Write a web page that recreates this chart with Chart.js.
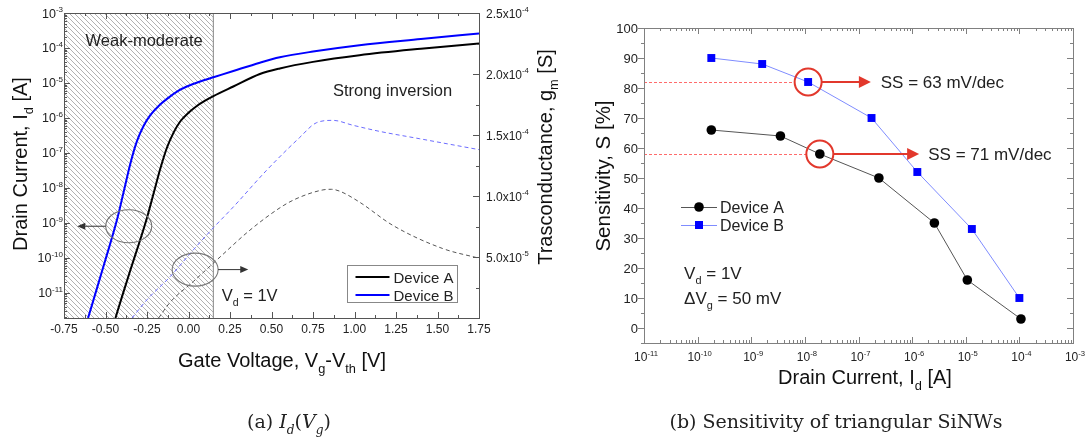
<!DOCTYPE html>
<html lang="en">
<head>
<meta charset="UTF-8">
<title>Id(Vg) and sensitivity of triangular SiNWs</title>
<script src="https://cdn.jsdelivr.net/npm/chart.js"></script>
<style>
  body { margin: 0; background: #fff; }
  .wrap { position: relative; width: 1092px; height: 441px; }
  canvas { position: absolute; top: 0; }
  #idChart { left: 0; }
  #sensChart { left: 565px; }
</style>
</head>
<body>
<div class="wrap">
  <canvas id="idChart" width="565" height="441"></canvas>
  <canvas id="sensChart" width="527" height="441"></canvas>
</div>
<script>
// ---- (a) drain current and transconductance vs Vg - Vth ----
const vgA = [-0.44, -0.40, -0.35, -0.30, -0.25, -0.21, -0.17, -0.13, -0.09, -0.05, 0.00, 0.05, 0.10, 0.15, 0.27, 0.43, 0.55, 0.75, 1.03, 1.40, 1.75];
const idA = [1.9e-12, 7.9e-12, 4.5e-11, 2.4e-10, 1.4e-9, 7e-9, 3.5e-8, 1.4e-7, 3.8e-7, 7.9e-7, 1.4e-6, 2.2e-6, 3.1e-6, 4.2e-6, 7.9e-6, 1.8e-5, 2.6e-5, 4e-5, 6.2e-5, 9.5e-5, 1.35e-4];
const vgB = [-0.605, -0.50, -0.43, -0.39, -0.35, -0.31, -0.27, -0.23, -0.18, -0.13, -0.06, -0.01, 0.07, 0.15, 0.27, 0.43, 0.55, 0.75, 1.03, 1.40, 1.75];
const idB = [1.9e-12, 8.9e-11, 1.26e-9, 7.9e-9, 5e-8, 2.2e-7, 6e-7, 1.2e-6, 2.2e-6, 3.5e-6, 6e-6, 7.9e-6, 1.1e-5, 1.45e-5, 2.2e-5, 3.8e-5, 5.4e-5, 7.9e-5, 1.2e-4, 1.8e-4, 2.6e-4];

const gmVgA = [-0.18, -0.11, 0.03, 0.11, 0.19, 0.37, 0.57, 0.67, 0.81, 0.86, 0.91, 1.03, 1.23, 1.53, 1.75];
const gmA = [0.0, 0.13e-4, 0.30e-4, 0.40e-4, 0.50e-4, 0.72e-4, 0.92e-4, 0.99e-4, 1.05e-4, 1.055e-4, 1.04e-4, 0.95e-4, 0.76e-4, 0.57e-4, 0.49e-4];
const gmVgB = [-0.34, -0.25, -0.11, 0.03, 0.15, 0.27, 0.47, 0.67, 0.77, 0.87, 0.99, 1.15, 1.39, 1.75];
const gmB = [0.0, 0.15e-4, 0.34e-4, 0.56e-4, 0.74e-4, 0.91e-4, 1.21e-4, 1.48e-4, 1.60e-4, 1.62e-4, 1.58e-4, 1.53e-4, 1.47e-4, 1.38e-4];

const vgTicks = [-0.75, -0.50, -0.25, 0.00, 0.25, 0.50, 0.75, 1.00, 1.25, 1.50, 1.75];
const gmTicks = [5e-5, 1e-4, 1.5e-4, 2e-4, 2.5e-4];
const idRange = [1.9e-12, 1e-3];
const gmRange = [0, 2.5e-4];
const hatchTo = 0.15;   // end of weak-moderate region

// annotations of panel (a), in data units
const notesA = [
  { text: 'Weak-moderate', x: -0.62, y: 1.66e-4 },
  { text: 'Strong inversion', x: 0.87, y: 6.3e-6 },
  { text: 'V_{d} = 1V', x: 0.20, y: 8.7e-12 }
];
const ovals = [ { x: -0.36, y: 8e-10, to: -0.67 }, { x: 0.04, y: 4.6e-11, to: 0.36 } ];

// ---- (b) sensitivity vs drain current ----
const idSensA = [1.8e-10, 3.5e-9, 1.9e-8, 2.4e-7, 2.6e-6, 1.07e-5, 1.07e-4];
const sensA = [66, 64, 58, 50, 35, 16, 3];
const idSensB = [1.8e-10, 1.6e-9, 1.15e-8, 1.75e-7, 1.25e-6, 1.3e-5, 1.0e-4];
const sensB = [90, 88, 82, 70, 52, 33, 10];
const sensTicks = [0, 10, 20, 30, 40, 50, 60, 70, 80, 90, 100];

const ssLevel = [82, 58];
const ssAt = [1.15e-8, 1.9e-8];
const ssArrowTo = [1.7e-7, 1.35e-6];
const ssLabel = ['SS = 63 mV/dec', 'SS = 71 mV/dec'];
const ssLabelAt = [2.6e-7, 2.0e-6];
const notesB = [
  { text: 'V_{d} = 1V', x: 5.6e-11, y: 18.3 },
  { text: '\u0394V_{g} = 50 mV', x: 5.6e-11, y: 9.9 }
];

const SANS = '"Liberation Sans", Arial, sans-serif';
const SERIF = '"DejaVu Serif", serif';

// ---- small text helpers (sub/superscripts) ----
function parseRich(str) {
  const out = [];
  const re = /([_^])\{([^}]*)\}/g;
  let last = 0, m;
  while ((m = re.exec(str))) {
    if (m.index > last) out.push({ t: str.slice(last, m.index) });
    out.push({ t: m[2], sub: m[1] === '_', sup: m[1] === '^' });
    last = re.lastIndex;
  }
  if (last < str.length) out.push({ t: str.slice(last) });
  return out;
}
function segFont(s, fs, fam) {
  const size = (s.sub || s.sup) ? fs * 0.64 : fs;
  return (s.it ? 'italic ' : '') + size + 'px ' + fam;
}
function drawRich(ctx, segs, x, y, fs, fam, align, color) {
  if (typeof segs === 'string') segs = parseRich(segs);
  let w = 0;
  segs.forEach(s => { ctx.font = segFont(s, fs, fam); w += ctx.measureText(s.t).width; });
  let cx = align === 'center' ? x - w / 2 : align === 'right' ? x - w : x;
  ctx.fillStyle = color || '#222';
  ctx.textAlign = 'left';
  ctx.textBaseline = 'alphabetic';
  segs.forEach(s => {
    ctx.font = segFont(s, fs, fam);
    const dy = s.sub ? fs * 0.3 : s.sup ? -fs * 0.42 : 0;
    ctx.fillText(s.t, cx, y + dy);
    cx += ctx.measureText(s.t).width;
  });
}
function drawRotated(ctx, str, x, y, fs, fam, color) {
  ctx.save();
  ctx.translate(x, y);
  ctx.rotate(-Math.PI / 2);
  drawRich(ctx, str, 0, 0, fs, fam, 'center', color);
  ctx.restore();
}
function tickMarks(ctx, ca, scale, values, side, len) {
  values.forEach(v => {
    const p = Math.round(scale.getPixelForValue(v)) + 0.5;
    ctx.beginPath();
    if (side === 'bottom') { ctx.moveTo(p, ca.bottom); ctx.lineTo(p, ca.bottom - len); }
    else if (side === 'top') { ctx.moveTo(p, ca.top); ctx.lineTo(p, ca.top + len); }
    else if (side === 'left') { ctx.moveTo(ca.left, p); ctx.lineTo(ca.left + len, p); }
    else { ctx.moveTo(ca.right, p); ctx.lineTo(ca.right - len, p); }
    ctx.stroke();
  });
}
function logTicks(lo, hi) {
  const major = [], minor = [];
  for (let e = Math.floor(Math.log10(lo)); e <= Math.ceil(Math.log10(hi)); e++) {
    for (let k = 1; k < 10; k++) {
      const v = k * Math.pow(10, e);
      if (v < lo * 0.999 || v > hi * 1.001) continue;
      (k === 1 ? major : minor).push(v);
    }
  }
  return { major, minor };
}
function arrow(ctx, x0, y, x1, head, half, color, lw) {
  const dir = Math.sign(x1 - x0);
  ctx.strokeStyle = color; ctx.fillStyle = color; ctx.lineWidth = lw;
  ctx.beginPath(); ctx.moveTo(x0, y); ctx.lineTo(x1 - dir * head * 0.8, y); ctx.stroke();
  ctx.beginPath();
  ctx.moveTo(x1, y);
  ctx.lineTo(x1 - dir * head, y - half);
  ctx.lineTo(x1 - dir * head, y + half);
  ctx.closePath(); ctx.fill();
}
const pts = (xs, ys) => xs.map((x, i) => ({ x: x, y: ys[i] }));
const hidden = (extra) => Object.assign({
  grid: { display: false }, ticks: { display: false }, border: { display: false },
  title: { display: false }
}, extra);

// ---- panel (a) drawing ----
const panelA = {
  id: 'panelA',
  beforeDatasetsDraw(chart) {
    const { ctx, chartArea: ca, scales } = chart;
    const x0 = ca.left, x1 = scales.x.getPixelForValue(hatchTo);
    const h = ca.bottom - ca.top;
    ctx.save();
    ctx.beginPath(); ctx.rect(x0, ca.top, x1 - x0, h); ctx.clip();
    ctx.strokeStyle = '#a8a8a8'; ctx.lineWidth = 0.9;
    for (let s = x0 - h; s < x1 + h; s += 5) {
      ctx.beginPath(); ctx.moveTo(s, ca.top); ctx.lineTo(s + h, ca.bottom); ctx.stroke();
    }
    ctx.restore();
    ctx.save();
    ctx.strokeStyle = '#9a9a9a'; ctx.lineWidth = 1.2;
    ctx.beginPath(); ctx.moveTo(x1, ca.top); ctx.lineTo(x1, ca.bottom); ctx.stroke();
    ctx.restore();
  },
  afterDatasetsDraw(chart) {
    const { ctx, chartArea: ca, scales } = chart;
    const sx = scales.x, sy = scales.y, s2 = scales.y2;
    ctx.save();
    // frame and ticks
    ctx.strokeStyle = '#555'; ctx.lineWidth = 1;
    ctx.strokeRect(ca.left + 0.5, ca.top + 0.5, ca.right - ca.left, ca.bottom - ca.top);
    const minorX = vgTicks.slice(1).map((v, i) => (v + vgTicks[i]) / 2);
    ['bottom', 'top'].forEach(side => {
      tickMarks(ctx, ca, sx, vgTicks, side, 6);
      tickMarks(ctx, ca, sx, minorX, side, 3);
    });
    const lt = logTicks(idRange[0], idRange[1]);
    tickMarks(ctx, ca, sy, lt.major, 'left', 6);
    tickMarks(ctx, ca, sy, lt.minor, 'left', 3);
    const gmMinor = [];
    for (let v = 2.5e-5; v < 2.5e-4; v += 5e-5) gmMinor.push(v);
    tickMarks(ctx, ca, s2, gmTicks, 'right', 6);
    tickMarks(ctx, ca, s2, gmMinor, 'right', 3);

    // tick labels
    vgTicks.forEach(v => {
      drawRich(ctx, v.toFixed(2), sx.getPixelForValue(v), ca.bottom + 15, 12, SANS, 'center', '#222');
    });
    lt.major.forEach(v => {
      const e = Math.round(Math.log10(v));
      drawRich(ctx, '10^{' + e + '}', ca.left - 1, sy.getPixelForValue(v) + 4.5, 12.5, SANS, 'right', '#222');
    });
    gmTicks.forEach(v => {
      const e = Math.floor(Math.log10(v) + 1e-9);
      const m = (v / Math.pow(10, e)).toFixed(1);
      drawRich(ctx, m + 'x10^{' + e + '}', ca.right + 7, s2.getPixelForValue(v) + 4.5, 12, SANS, 'left', '#222');
    });

    // axis titles
    drawRich(ctx, 'Gate Voltage, V_{g}-V_{th} [V]', 282, 367, 20, SANS, 'center', '#111');
    drawRotated(ctx, 'Drain Current, I_{d} [A]', 27, 164, 20, SANS, '#111');
    drawRotated(ctx, 'Trasconductance, g_{m} [S]', 552, 157, 20, SANS, '#111');

    // text notes
    notesA.forEach(n => {
      drawRich(ctx, n.text, sx.getPixelForValue(n.x), sy.getPixelForValue(n.y) + 6, 16.5, SANS, 'left', '#222');
    });

    // circled groups with arrows
    ovals.forEach(o => {
      const cx = sx.getPixelForValue(o.x), cy = sy.getPixelForValue(o.y);
      ctx.strokeStyle = '#777'; ctx.lineWidth = 1.1;
      ctx.beginPath(); ctx.ellipse(cx, cy, 23, 16.5, 0, 0, Math.PI * 2); ctx.stroke();
      const tx = sx.getPixelForValue(o.to);
      const start = cx + Math.sign(tx - cx) * 23;
      arrow(ctx, start, cy, tx, 8, 3.5, '#333', 1);
    });

    // legend box
    const bx = ca.right - 131.5, by = ca.bottom - 52.5;
    ctx.fillStyle = '#fff'; ctx.fillRect(bx, by, 110, 37);
    ctx.strokeStyle = '#888'; ctx.lineWidth = 1; ctx.strokeRect(bx, by, 110, 37);
    [['Device A', '#000'], ['Device B', '#0000ff']].forEach((d, i) => {
      const ly = by + 11.5 + i * 18;
      ctx.strokeStyle = d[1]; ctx.lineWidth = 2;
      ctx.beginPath(); ctx.moveTo(bx + 8, ly); ctx.lineTo(bx + 42, ly); ctx.stroke();
      drawRich(ctx, d[0], bx + 46, ly + 5.5, 15, SANS, 'left', '#222');
    });

    // caption
    drawRich(ctx, [
      { t: '(a) ' }, { t: 'I', it: true }, { t: 'd', it: true, sub: true },
      { t: '(' }, { t: 'V', it: true }, { t: 'g', it: true, sub: true }, { t: ')' }
    ], 289, 428, 19, SERIF, 'center', '#222');
    ctx.restore();
  }
};

new Chart(document.getElementById('idChart'), {
  type: 'line',
  data: {
    datasets: [
      { label: 'Device A', data: pts(vgA, idA), yAxisID: 'y', borderColor: '#000', borderWidth: 2,
        pointRadius: 0, cubicInterpolationMode: 'monotone' },
      { label: 'Device B', data: pts(vgB, idB), yAxisID: 'y', borderColor: '#0000ff', borderWidth: 2,
        pointRadius: 0, cubicInterpolationMode: 'monotone' },
      { label: 'gm A', data: pts(gmVgA, gmA), yAxisID: 'y2', borderColor: '#555', borderWidth: 1,
        borderDash: [4, 3], pointRadius: 0, cubicInterpolationMode: 'monotone' },
      { label: 'gm B', data: pts(gmVgB, gmB), yAxisID: 'y2', borderColor: '#6b6bff', borderWidth: 1,
        borderDash: [4, 3], pointRadius: 0, cubicInterpolationMode: 'monotone' }
    ]
  },
  options: {
    responsive: false,
    animation: false,
    layout: { padding: { left: 64, right: 86, top: 13, bottom: 123 } },
    plugins: { legend: { display: false }, tooltip: { enabled: false } },
    scales: {
      x: hidden({ type: 'linear', min: vgTicks[0], max: vgTicks[vgTicks.length - 1],
        afterFit(s) { s.height = 0; } }),
      y: hidden({ type: 'logarithmic', min: idRange[0], max: idRange[1], position: 'left',
        afterFit(s) { s.width = 0; } }),
      y2: hidden({ type: 'linear', min: gmRange[0], max: gmRange[1], position: 'right',
        afterFit(s) { s.width = 0; } })
    }
  },
  plugins: [panelA]
});

// ---- panel (b) drawing ----
const panelB = {
  id: 'panelB',
  beforeDatasetsDraw(chart) {
    const { ctx, chartArea: ca, scales } = chart;
    ctx.save();
    ctx.strokeStyle = '#ff6b6b'; ctx.lineWidth = 1; ctx.setLineDash([3, 2]);
    ssLevel.forEach((lv, i) => {
      const y = Math.round(scales.y.getPixelForValue(lv)) + 0.5;
      const xe = scales.x.getPixelForValue(ssAt[i]) - 13.5;
      ctx.beginPath(); ctx.moveTo(ca.left, y); ctx.lineTo(xe, y); ctx.stroke();
    });
    ctx.restore();
  },
  afterDatasetsDraw(chart) {
    const { ctx, chartArea: ca, scales } = chart;
    const sx = scales.x, sy = scales.y;
    ctx.save();
    ctx.strokeStyle = '#808080'; ctx.lineWidth = 1;
    ctx.strokeRect(ca.left + 0.5, ca.top + 0.5, ca.right - ca.left, ca.bottom - ca.top);
    const lt = logTicks(1e-11, 1e-3);
    ['bottom', 'top'].forEach(side => {
      tickMarks(ctx, ca, sx, lt.major, side, 6);
      tickMarks(ctx, ca, sx, lt.minor, side, 3);
    });
    const minorY = [-5].concat(sensTicks.map(v => v + 5)).filter(v => v < 100);
    tickMarks(ctx, ca, sy, sensTicks, 'left', -6);
    tickMarks(ctx, ca, sy, minorY, 'left', -3);
    tickMarks(ctx, ca, sy, sensTicks, 'right', 6);
    tickMarks(ctx, ca, sy, minorY, 'right', 3);

    lt.major.forEach(v => {
      const e = Math.round(Math.log10(v));
      drawRich(ctx, '10^{' + e + '}', sx.getPixelForValue(v) + 2, ca.bottom + 18, 12, SANS, 'center', '#222');
    });
    sensTicks.forEach(v => {
      drawRich(ctx, String(v), ca.left - 6, sy.getPixelForValue(v) + 4.7, 13, SANS, 'right', '#222');
    });

    drawRich(ctx, 'Drain Current, I_{d} [A]', 300, 384, 20, SANS, 'center', '#111');
    drawRotated(ctx, 'Sensitivity, S [%]', 45, 176, 20.5, SANS, '#111');

    // circled points, arrows and SS labels
    ssLevel.forEach((lv, i) => {
      const cx = sx.getPixelForValue(ssAt[i]), cy = sy.getPixelForValue(lv);
      ctx.strokeStyle = '#e2382c'; ctx.lineWidth = 2;
      ctx.beginPath(); ctx.arc(cx, cy, 13.5, 0, Math.PI * 2); ctx.stroke();
      arrow(ctx, cx + 13.5, cy, sx.getPixelForValue(ssArrowTo[i]), 12, 6, '#e2382c', 2.2);
      drawRich(ctx, ssLabel[i], sx.getPixelForValue(ssLabelAt[i]), cy + 6, 17, SANS, 'left', '#222');
    });

    notesB.forEach(n => {
      drawRich(ctx, n.text, sx.getPixelForValue(n.x), sy.getPixelForValue(n.y) + 6, 17, SANS, 'left', '#222');
    });

    // legend
    const lx = ca.left + 37, ly0 = ca.top + 179;
    [['Device A', '#555', '#000', 'circle'], ['Device B', '#7f8cff', '#0000ff', 'rect']].forEach((d, i) => {
      const ly = ly0 + i * 18;
      ctx.strokeStyle = d[1]; ctx.lineWidth = 1;
      ctx.beginPath(); ctx.moveTo(lx, ly + 0.5); ctx.lineTo(lx + 36, ly + 0.5); ctx.stroke();
      ctx.fillStyle = d[2];
      if (d[3] === 'circle') { ctx.beginPath(); ctx.arc(lx + 18, ly, 4.8, 0, Math.PI * 2); ctx.fill(); }
      else ctx.fillRect(lx + 14, ly - 4, 8, 8);
      drawRich(ctx, d[0], lx + 39, ly + 5.8, 16, SANS, 'left', '#222');
    });

    drawRich(ctx, '(b) Sensitivity of triangular SiNWs', 271, 428, 19, SERIF, 'center', '#222');
    ctx.restore();
  }
};

new Chart(document.getElementById('sensChart'), {
  type: 'line',
  data: {
    datasets: [
      { label: 'Device A', data: pts(idSensA, sensA), borderColor: '#555', borderWidth: 1,
        pointStyle: 'circle', pointRadius: 4.8, pointBackgroundColor: '#000', pointBorderWidth: 0 },
      { label: 'Device B', data: pts(idSensB, sensB), borderColor: '#7f8cff', borderWidth: 1,
        pointStyle: 'rect', pointRadius: 5.6, pointBackgroundColor: '#0000ff', pointBorderWidth: 0 }
    ]
  },
  options: {
    responsive: false,
    animation: false,
    layout: { padding: { left: 79, right: 19, top: 28, bottom: 98 } },
    plugins: { legend: { display: false }, tooltip: { enabled: false } },
    scales: {
      x: hidden({ type: 'logarithmic', min: 1e-11, max: 1e-3, afterFit(s) { s.height = 0; } }),
      y: hidden({ type: 'linear', min: -5, max: 100, afterFit(s) { s.width = 0; } })
    }
  },
  plugins: [panelB]
});
</script>
</body>
</html>
